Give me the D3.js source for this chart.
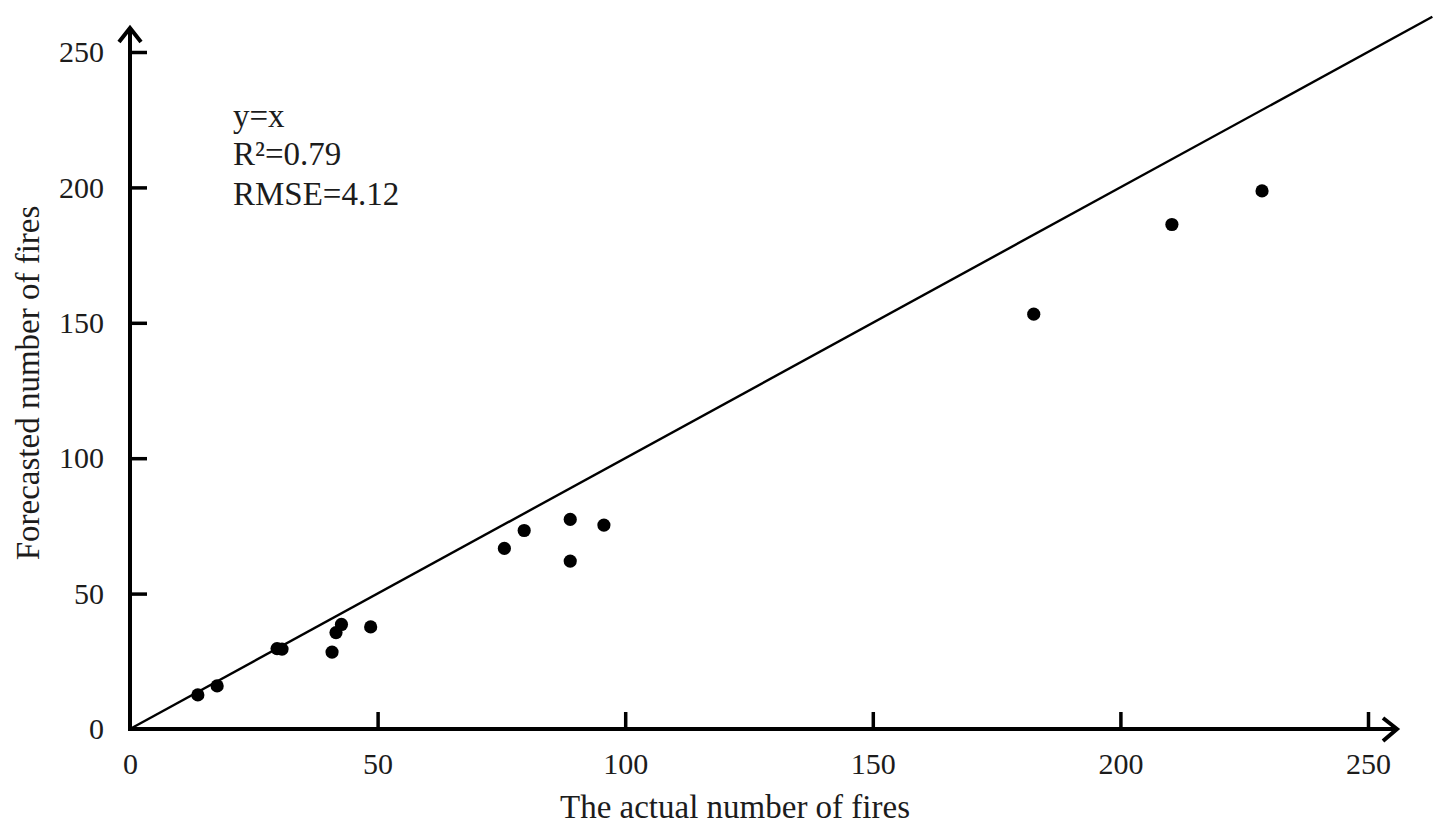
<!DOCTYPE html>
<html>
<head>
<meta charset="utf-8">
<script src="https://cdn.jsdelivr.net/npm/d3@7"></script>
<style>
  html, body { margin: 0; padding: 0; background: #fff; }
  text { font-family: "Liberation Serif", serif; fill: #1c1c1c; }
</style>
</head>
<body>
<div id="chart"></div>
<script>
// values
var actual   = [13.7, 17.6, 29.7, 30.7, 40.8, 41.6, 42.7, 48.6, 75.6, 79.6, 88.9, 88.9, 95.7, 182.5, 210.4, 228.6];
var forecast = [12.6, 15.9, 29.7, 29.5, 28.4, 35.6, 38.6, 37.7, 66.7, 73.3, 77.4, 62.0, 75.3, 153.2, 186.3, 198.7];
var tickValues = [0, 50, 100, 150, 200, 250];
var fitLine = [0, 263];
var notes = ["y=x", "R²=0.79", "RMSE=4.12"];

var svg = d3.select("#chart").append("svg")
  .attr("width", 1450)
  .attr("height", 827)
  .style("display", "block");

var x = d3.scaleLinear().domain([0, 250]).range([130, 1368]);
var y = d3.scaleLinear().domain([0, 250]).range([729, 52]);

// ticks point into the plot, axis lines drawn separately because of the arrows
var xAxis = d3.axisBottom(x).tickValues(tickValues).tickSizeInner(-17).tickSizeOuter(0).tickPadding(45);
var yAxis = d3.axisLeft(y).tickValues(tickValues).tickSizeInner(-17).tickSizeOuter(0).tickPadding(26);

var gx = svg.append("g").attr("transform", "translate(0,729)").call(xAxis);
var gy = svg.append("g").attr("transform", "translate(130,0)").call(yAxis);

[gx, gy].forEach(function(g){
  g.select(".domain").remove();
  g.selectAll(".tick line").attr("stroke", "#000").attr("stroke-width", 3.5);
  g.selectAll(".tick text").style("font-size", "30px").style("font-family", '"Liberation Serif", serif').attr("fill", "#2a2a2a");
});
gx.selectAll(".tick text").attr("dy", "0");
gx.selectAll(".tick").filter(function(d){ return d === 0; }).select("line").remove();
gy.selectAll(".tick").filter(function(d){ return d === 0; }).select("line").remove();

// axis lines with open arrow heads
var line = d3.line();
svg.append("path").attr("d", line([[130, 731], [130, 29]])).attr("fill", "none").attr("stroke", "#000").attr("stroke-width", 4);
svg.append("path").attr("d", line([[119, 42], [130, 28], [141, 42]])).attr("fill", "none").attr("stroke", "#000").attr("stroke-width", 4);
svg.append("path").attr("d", line([[128, 729], [1396, 729]])).attr("fill", "none").attr("stroke", "#000").attr("stroke-width", 4);
svg.append("path").attr("d", line([[1383, 718], [1397, 729], [1383, 741]])).attr("fill", "none").attr("stroke", "#000").attr("stroke-width", 4);

// y=x reference
svg.append("line")
  .attr("x1", x(fitLine[0])).attr("y1", y(fitLine[0]))
  .attr("x2", x(fitLine[1])).attr("y2", y(fitLine[1]))
  .attr("stroke", "#000").attr("stroke-width", 2.4);

svg.selectAll("circle.pt")
  .data(actual)
  .enter().append("circle")
  .attr("class", "pt")
  .attr("cx", function(d){ return x(d); })
  .attr("cy", function(d, i){ return y(forecast[i]); })
  .attr("r", 6.6)
  .attr("fill", "#000");

svg.selectAll("text.note")
  .data(notes)
  .enter().append("text")
  .attr("class", "note")
  .attr("x", 233)
  .attr("y", function(d, i){ return [127, 165, 205][i]; })
  .style("font-size", "33px")
  .text(function(d){ return d; });

svg.append("text")
  .attr("x", 735).attr("y", 818)
  .attr("text-anchor", "middle")
  .style("font-size", "33px")
  .text("The actual number of fires");

svg.append("text")
  .attr("transform", "translate(39,383) rotate(-90)")
  .attr("text-anchor", "middle")
  .style("font-size", "33px")
  .text("Forecasted number of fires");
</script>
</body>
</html>
